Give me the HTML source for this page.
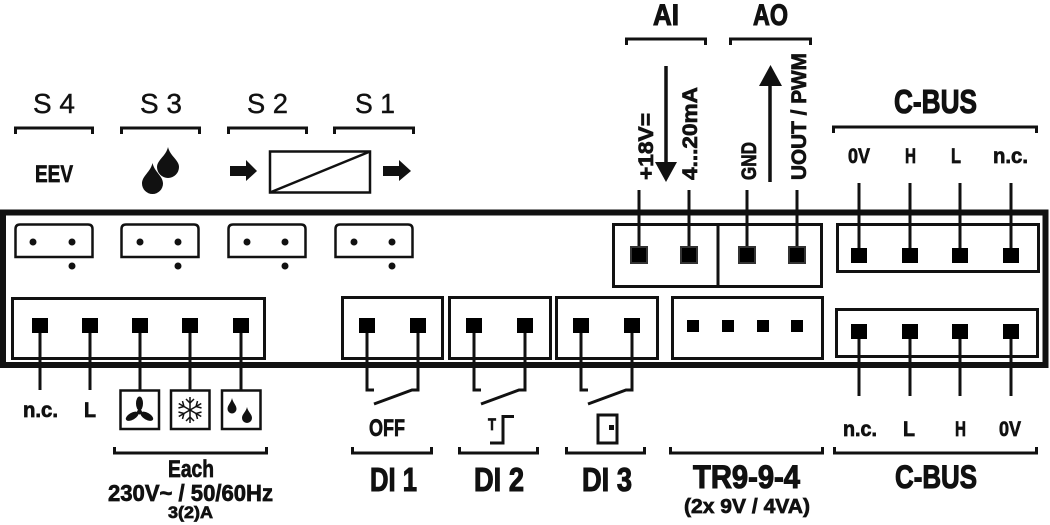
<!DOCTYPE html>
<html><head><meta charset="utf-8"><style>
html,body{margin:0;padding:0;background:#fff;}
svg{display:block;}
text{font-family:"Liberation Sans",sans-serif;fill:#111;}
.b{font-weight:bold;stroke:#111;stroke-width:0.7;}
.bb{font-weight:bold;stroke:#111;stroke-width:1.1;}
.r{stroke:#111;stroke-width:0.4;}
</style></head><body>
<svg width="1050" height="525" viewBox="0 0 1050 525" xmlns="http://www.w3.org/2000/svg">
<g fill="none" stroke="#111" stroke-width="3">
  <path d="M15.5,134 V128 H92.5 V134"/>
  <path d="M121.5,134 V128 H199.5 V134"/>
  <path d="M228.5,134 V128 H306.5 V134"/>
  <path d="M334.5,134 V128 H413.5 V134"/>
  <path d="M626.5,45 V39 H705.5 V45"/>
  <path d="M730.5,45 V39 H810.5 V45"/>
  <path d="M833.5,133 V127 H1036.5 V133"/>
  <path d="M114.5,447 V453 H266.5 V447"/>
  <path d="M352.5,447 V453 H431.5 V447"/>
  <path d="M459.5,447 V453 H537.5 V447"/>
  <path d="M566.5,447 V453 H644.5 V447"/>
  <path d="M670.5,447 V453 H822.5 V447"/>
  <path d="M834.5,447 V453 H1036.5 V447"/>
</g>

<rect x="3" y="212.5" width="1042.5" height="152.5" fill="none" stroke="#111" stroke-width="6"/>

<g fill="none" stroke="#111" stroke-width="2.5">
  <path d="M15.5,257 V229 Q15.5,224.5 20,224.5 H88 Q92.5,224.5 92.5,229 V257 Z"/>
  <path d="M121.5,257 V229 Q121.5,224.5 126,224.5 H194 Q198.5,224.5 198.5,229 V257 Z"/>
  <path d="M228.5,257 V229 Q228.5,224.5 233,224.5 H301 Q305.5,224.5 305.5,229 V257 Z"/>
  <path d="M335.5,257 V229 Q335.5,224.5 340,224.5 H408 Q412.5,224.5 412.5,229 V257 Z"/>
</g>
<g fill="#111">
  <circle cx="33" cy="242" r="3.5"/><circle cx="72" cy="242" r="3.5"/><circle cx="72" cy="266" r="3.5"/>
  <circle cx="140" cy="242" r="3.5"/><circle cx="178" cy="242" r="3.5"/><circle cx="178" cy="266" r="3.5"/>
  <circle cx="247" cy="242" r="3.5"/><circle cx="285" cy="242" r="3.5"/><circle cx="285" cy="266" r="3.5"/>
  <circle cx="354" cy="242" r="3.5"/><circle cx="392" cy="242" r="3.5"/><circle cx="392" cy="266" r="3.5"/>
</g>

<g fill="none" stroke="#111" stroke-width="3">
  <rect x="12.5" y="298.5" width="252" height="60"/>
  <rect x="342.5" y="297.5" width="100" height="61"/>
  <rect x="449.5" y="297.5" width="101" height="61"/>
  <rect x="556.5" y="297.5" width="101" height="61"/>
  <rect x="672.5" y="297.5" width="150" height="61"/>
  <rect x="836.5" y="309.5" width="201" height="47"/>
  <rect x="613.5" y="224.5" width="208" height="62"/>
  <line x1="718" y1="224.5" x2="718" y2="286.5"/>
  <rect x="837.5" y="224.5" width="201" height="47"/>
</g>

<g fill="none" stroke="#111" stroke-width="3">
  <line x1="40" y1="325" x2="40" y2="390"/>
  <line x1="90" y1="325" x2="90" y2="390"/>
  <line x1="140" y1="325" x2="140" y2="390"/>
  <line x1="190" y1="325" x2="190" y2="390"/>
  <line x1="241" y1="325" x2="241" y2="390"/>
  <path d="M367,325 V390 H374"/><path d="M418,325 V390 H412 L374,404"/>
  <path d="M474,325 V390 H481"/><path d="M525,325 V390 H519 L481,404"/>
  <path d="M581,325 V390 H588"/><path d="M632,325 V390 H626 L588,404"/>
  <line x1="639" y1="190" x2="639" y2="250"/>
  <line x1="689" y1="190" x2="689" y2="250"/>
  <line x1="747" y1="190" x2="747" y2="250"/>
  <line x1="797" y1="190" x2="797" y2="250"/>
  <line x1="859" y1="183" x2="859" y2="252"/>
  <line x1="910" y1="183" x2="910" y2="252"/>
  <line x1="960" y1="183" x2="960" y2="252"/>
  <line x1="1011" y1="183" x2="1011" y2="252"/>
  <line x1="859" y1="335" x2="859" y2="396"/>
  <line x1="910" y1="335" x2="910" y2="396"/>
  <line x1="960" y1="335" x2="960" y2="396"/>
  <line x1="1011" y1="335" x2="1011" y2="396"/>
</g>

<g fill="#000">
  <rect x="32" y="318" width="16" height="15"/><rect x="82" y="318" width="16" height="15"/>
  <rect x="132" y="318" width="16" height="15"/><rect x="182" y="318" width="16" height="15"/>
  <rect x="233" y="318" width="16" height="15"/>
  <rect x="359" y="318" width="16" height="15"/><rect x="410" y="318" width="16" height="15"/>
  <rect x="466" y="318" width="16" height="15"/><rect x="517" y="318" width="16" height="15"/>
  <rect x="573" y="318" width="16" height="15"/><rect x="624" y="318" width="16" height="15"/>
  <rect x="687" y="320" width="12" height="12"/><rect x="722" y="320" width="12" height="12"/>
  <rect x="757" y="320" width="12" height="12"/><rect x="791" y="320" width="12" height="12"/>
  <rect x="851" y="324" width="16" height="15"/><rect x="902" y="324" width="16" height="15"/>
  <rect x="952" y="324" width="16" height="15"/><rect x="1003" y="324" width="16" height="15"/>
  <rect x="851" y="248" width="16" height="15"/><rect x="902" y="248" width="16" height="15"/>
  <rect x="952" y="248" width="16" height="15"/><rect x="1003" y="248" width="16" height="15"/>
</g>
<g fill="#000" stroke="#333" stroke-width="2">
  <rect x="631" y="247" width="16" height="16"/><rect x="681" y="247" width="16" height="16"/>
  <rect x="739" y="247" width="16" height="16"/><rect x="789" y="247" width="16" height="16"/>
</g>

<line x1="666" y1="66" x2="666" y2="165" stroke="#111" stroke-width="3.5"/>
<polygon points="655,162 677,162 666,182" fill="#111"/>
<line x1="770" y1="182" x2="770" y2="82" stroke="#111" stroke-width="3.5"/>
<polygon points="759,86 782,86 770.5,65" fill="#111"/>

<g fill="#111">
  <path d="M168,147 C170,156 179,160 179,167 A11,11 0 1 1 157,167 C157,160 166,156 168,147 Z"/>
  <path d="M152.5,163 C154.5,172 163,176 163,183.5 A10.5,10.5 0 1 1 142,183.5 C142,176 150.5,172 152.5,163 Z"/>
</g>
<g fill="#111">
  <rect x="230" y="166" width="18" height="10"/><polygon points="246,160 257,171 246,181"/>
  <rect x="383" y="166" width="18" height="10"/><polygon points="399,160 411,171 399,181"/>
</g>
<rect x="270" y="151.5" width="100" height="41" fill="none" stroke="#111" stroke-width="2.5"/>
<line x1="270" y1="192.5" x2="370" y2="151.5" stroke="#111" stroke-width="2.5"/>

<g fill="none" stroke="#111" stroke-width="2.5">
  <rect x="120.5" y="390.5" width="38.5" height="38.5"/>
  <rect x="171" y="390.5" width="38.5" height="38.5"/>
  <rect x="222" y="390.5" width="38.5" height="38.5"/>
</g>
<g fill="#111">
  <ellipse cx="139.5" cy="403.5" rx="3.5" ry="7"/>
  <ellipse cx="139.5" cy="403.5" rx="3.5" ry="7" transform="rotate(120 139.5 412)"/>
  <ellipse cx="139.5" cy="403.5" rx="3.5" ry="7" transform="rotate(240 139.5 412)"/>
  <circle cx="139.5" cy="412" r="2.5"/>
</g>
<g stroke="#111" stroke-width="1.5" fill="none">
  <g><line x1="190" y1="410" x2="190" y2="397"/><polyline points="186,399 190,403 194,399"/></g>
  <g transform="rotate(60 190 410)"><line x1="190" y1="410" x2="190" y2="397"/><polyline points="186,399 190,403 194,399"/></g>
  <g transform="rotate(120 190 410)"><line x1="190" y1="410" x2="190" y2="397"/><polyline points="186,399 190,403 194,399"/></g>
  <g transform="rotate(180 190 410)"><line x1="190" y1="410" x2="190" y2="397"/><polyline points="186,399 190,403 194,399"/></g>
  <g transform="rotate(240 190 410)"><line x1="190" y1="410" x2="190" y2="397"/><polyline points="186,399 190,403 194,399"/></g>
  <g transform="rotate(300 190 410)"><line x1="190" y1="410" x2="190" y2="397"/><polyline points="186,399 190,403 194,399"/></g>
</g>
<g fill="#111">
  <path d="M232,398 C233,403 236.5,405 236.5,409 A4.5,4.5 0 1 1 227.5,409 C227.5,405 231,403 232,398 Z"/>
  <path d="M247,407 C248,412 252,414 252,418 A5,5 0 1 1 242,418 C242,414 246,412 247,407 Z"/>
</g>

<text class="b" x="488" y="430" font-size="17" textLength="8" lengthAdjust="spacingAndGlyphs">T</text>
<path d="M490,443 H503 V416.5 H514" fill="none" stroke="#111" stroke-width="3"/>
<rect x="598" y="415" width="19" height="28" fill="none" stroke="#111" stroke-width="3"/>
<rect x="609" y="425" width="5" height="5" fill="#111"/>

<g font-size="28">
  <text class="r" x="33" y="113" textLength="42" lengthAdjust="spacingAndGlyphs">S 4</text>
  <text class="r" x="140" y="113" textLength="42" lengthAdjust="spacingAndGlyphs">S 3</text>
  <text class="r" x="247" y="113" textLength="41" lengthAdjust="spacingAndGlyphs">S 2</text>
  <text class="r" x="355" y="113" textLength="40" lengthAdjust="spacingAndGlyphs">S 1</text>
</g>
<text class="b" x="35" y="182" font-size="24" textLength="38" lengthAdjust="spacingAndGlyphs">EEV</text>
<text class="bb" x="653" y="25" font-size="30" textLength="26" lengthAdjust="spacingAndGlyphs">AI</text>
<text class="bb" x="753" y="25" font-size="30" textLength="35" lengthAdjust="spacingAndGlyphs">AO</text>
<text class="bb" x="894" y="113" font-size="33" textLength="83" lengthAdjust="spacingAndGlyphs">C-BUS</text>
<g font-size="21">
  <text class="b" x="848" y="163" textLength="22" lengthAdjust="spacingAndGlyphs">0V</text>
  <text class="b" x="905" y="163" textLength="11" lengthAdjust="spacingAndGlyphs">H</text>
  <text class="b" x="951" y="163" textLength="10" lengthAdjust="spacingAndGlyphs">L</text>
  <text class="b" x="993" y="163" textLength="35" lengthAdjust="spacingAndGlyphs">n.c.</text>
</g>
<g font-size="21">
  <text class="b" transform="translate(653,180) rotate(-90)" x="0" y="0" textLength="67" lengthAdjust="spacingAndGlyphs">+18V=</text>
  <text class="b" transform="translate(697,180) rotate(-90)" x="0" y="0" textLength="93" lengthAdjust="spacingAndGlyphs">4...20mA</text>
  <text class="b" transform="translate(756,180) rotate(-90)" x="0" y="0" textLength="38" lengthAdjust="spacingAndGlyphs">GND</text>
  <text class="b" transform="translate(806,180) rotate(-90)" x="0" y="0" textLength="127" lengthAdjust="spacingAndGlyphs">UOUT / PWM</text>
</g>

<g font-size="21">
  <text class="b" x="23" y="417" textLength="35" lengthAdjust="spacingAndGlyphs">n.c.</text>
  <text class="b" x="84" y="417" textLength="12" lengthAdjust="spacingAndGlyphs">L</text>
  <text class="b" x="843" y="436" textLength="34" lengthAdjust="spacingAndGlyphs">n.c.</text>
  <text class="b" x="903" y="436" textLength="12" lengthAdjust="spacingAndGlyphs">L</text>
  <text class="b" x="955" y="436" textLength="11" lengthAdjust="spacingAndGlyphs">H</text>
  <text class="b" x="999" y="436" textLength="22" lengthAdjust="spacingAndGlyphs">0V</text>
</g>
<text class="b" x="369" y="436" font-size="24" textLength="36" lengthAdjust="spacingAndGlyphs">OFF</text>
<g font-size="33">
  <text class="bb" x="370" y="491" textLength="47" lengthAdjust="spacingAndGlyphs">DI 1</text>
  <text class="bb" x="474" y="491" textLength="50" lengthAdjust="spacingAndGlyphs">DI 2</text>
  <text class="bb" x="582" y="491" textLength="50" lengthAdjust="spacingAndGlyphs">DI 3</text>
</g>
<text class="bb" x="693" y="488" font-size="32" textLength="107" lengthAdjust="spacingAndGlyphs">TR9-9-4</text>
<text class="b" x="684" y="513" font-size="20" textLength="126" lengthAdjust="spacingAndGlyphs">(2x 9V / 4VA)</text>
<text class="bb" x="895" y="488" font-size="32" textLength="82" lengthAdjust="spacingAndGlyphs">C-BUS</text>
<text class="b" x="168" y="477" font-size="24" textLength="46" lengthAdjust="spacingAndGlyphs">Each</text>
<text class="b" x="108" y="501" font-size="23" textLength="165" lengthAdjust="spacingAndGlyphs">230V~ / 50/60Hz</text>
<text class="b" x="168" y="518" font-size="17" textLength="45" lengthAdjust="spacingAndGlyphs">3(2)A</text>
</svg>
</body></html>
